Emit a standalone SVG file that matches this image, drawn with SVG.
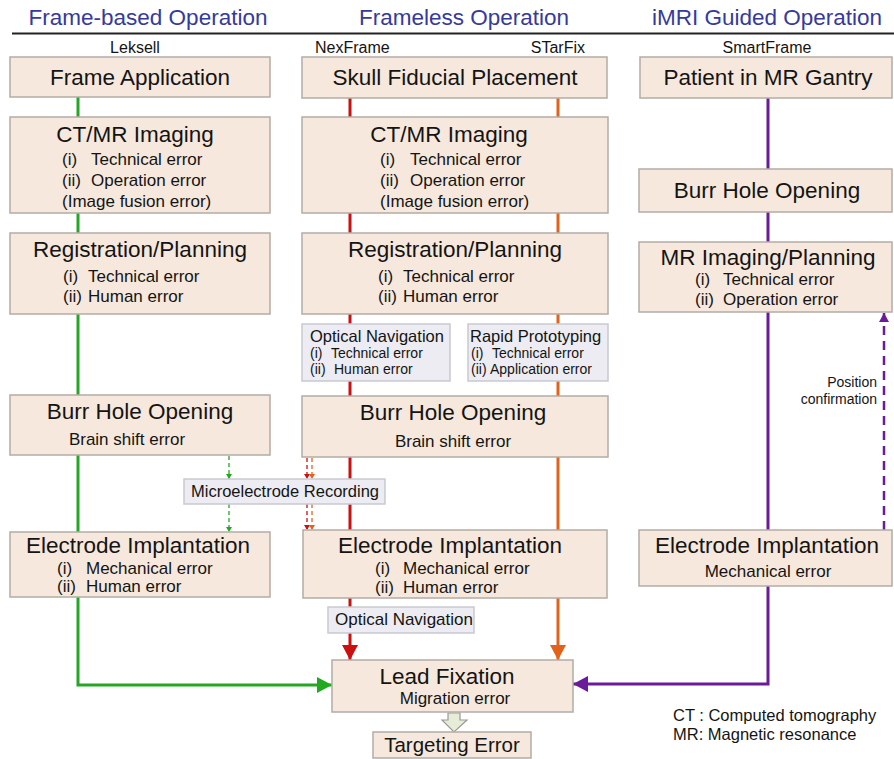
<svg xmlns="http://www.w3.org/2000/svg" width="894" height="759" viewBox="0 0 894 759">
<style>
text{font-family:"Liberation Sans",Arial,sans-serif;fill:#141414}
.hd{font-size:22.5px;fill:#363a9c;text-anchor:middle}
.col{font-size:16px;text-anchor:middle}
.t{font-size:22.5px;text-anchor:middle}
.s{font-size:17px}
.sc{font-size:17px;text-anchor:middle}
.box{fill:#f6e8dc;stroke:#b3aca6;stroke-width:1.5}
.sb{fill:#ececf2;stroke:#c9c9d2;stroke-width:1.5}
.st{font-size:16.5px}
.ss{font-size:14px}
.ln{fill:none;stroke-width:3}
.dl{fill:none;stroke-width:1.3;stroke-dasharray:4 3}
</style>
<defs>
<marker id="ag" markerUnits="userSpaceOnUse" markerWidth="16" markerHeight="16" refX="15" refY="8" orient="auto"><path d="M0,0 L15,8 L0,16 z" fill="#22a822"/></marker>
<marker id="ar" markerUnits="userSpaceOnUse" markerWidth="16" markerHeight="16" refX="15" refY="8" orient="auto"><path d="M0,0 L15,8 L0,16 z" fill="#cc1010"/></marker>
<marker id="ao" markerUnits="userSpaceOnUse" markerWidth="16" markerHeight="16" refX="15" refY="8" orient="auto"><path d="M0,0 L15,8 L0,16 z" fill="#e2621a"/></marker>
<marker id="ap" markerUnits="userSpaceOnUse" markerWidth="16" markerHeight="16" refX="15" refY="8" orient="auto"><path d="M0,0 L15,8 L0,16 z" fill="#6a1b9a"/></marker>
<marker id="apd" markerUnits="userSpaceOnUse" markerWidth="10" markerHeight="10" refX="9" refY="5" orient="auto"><path d="M0,0 L9,5 L0,10 z" fill="#6a1b9a"/></marker>
<marker id="sg" markerUnits="userSpaceOnUse" markerWidth="6" markerHeight="6" refX="5" refY="3" orient="auto"><path d="M0,0 L5,3 L0,6 z" fill="#22a822"/></marker>
<marker id="sr" markerUnits="userSpaceOnUse" markerWidth="6" markerHeight="6" refX="5" refY="3" orient="auto"><path d="M0,0 L5,3 L0,6 z" fill="#cc1010"/></marker>
<marker id="so" markerUnits="userSpaceOnUse" markerWidth="6" markerHeight="6" refX="5" refY="3" orient="auto"><path d="M0,0 L5,3 L0,6 z" fill="#e2621a"/></marker>
</defs>
<rect width="894" height="759" fill="#ffffff"/>
<g id="header">
<text class="hd" x="148" y="25">Frame-based Operation</text>
<text class="hd" x="464" y="25">Frameless Operation</text>
<text class="hd" x="767" y="25">iMRI Guided Operation</text>
<line x1="12" y1="33.5" x2="894" y2="33.5" stroke="#222" stroke-width="2"/>
<text class="col" x="135" y="53">Leksell</text>
<text class="col" x="315" y="53" style="text-anchor:start">NexFrame</text>
<text class="col" x="585" y="53" style="text-anchor:end">STarFix</text>
<text class="col" x="767" y="53">SmartFrame</text>
</g>
<g id="connectors">
<path class="ln" stroke="#22a822" d="M78 97 V685 H332" marker-end="url(#ag)"/>
<path class="ln" stroke="#cc1010" d="M350 98 V660" marker-end="url(#ar)"/>
<path class="ln" stroke="#e2621a" d="M558 98 V660" marker-end="url(#ao)"/>
<path class="ln" stroke="#6a1b9a" d="M768 98 V684 H573" marker-end="url(#ap)"/>
<path fill="none" stroke="#6a1b9a" stroke-width="2.5" stroke-dasharray="9 6" d="M884 530 V313" marker-end="url(#apd)"/>
<path class="dl" stroke="#22a822" d="M229 456 V479" marker-end="url(#sg)"/>
<path class="dl" stroke="#22a822" d="M229 504 V532" marker-end="url(#sg)"/>
<path class="dl" stroke="#cc1010" d="M307 458 V479" marker-end="url(#sr)"/>
<path class="dl" stroke="#cc1010" d="M307 504 V530" marker-end="url(#sr)"/>
<path class="dl" stroke="#e2621a" d="M312 458 V479" marker-end="url(#so)"/>
<path class="dl" stroke="#e2621a" d="M312 504 V530" marker-end="url(#so)"/>
<path d="M448 713 H460 V720 H467 L454 732 L442 720 H448 Z" fill="#e6edd6" stroke="#9a9a9a" stroke-width="1.2"/>
</g>
<g id="frame-application">
<rect class="box" x="10" y="57" width="260" height="40"/>
<text class="t" x="140" y="85">Frame Application</text>
</g>
<g id="skull-fiducial">
<rect class="box" x="302" y="57" width="305" height="41"/>
<text class="t" x="455" y="85">Skull Fiducial Placement</text>
</g>
<g id="patient-gantry">
<rect class="box" x="640" y="57" width="252" height="41"/>
<text class="t" x="768" y="85">Patient in MR Gantry</text>
</g>
<g id="ct-left">
<rect class="box" x="10" y="117" width="260" height="96"/>
<text class="t" x="135" y="142">CT/MR Imaging</text>
<text class="s" y="165"><tspan x="62">(i)</tspan><tspan x="91">Technical error</tspan></text>
<text class="s" y="186"><tspan x="62">(ii)</tspan><tspan x="91">Operation error</tspan></text>
<text class="s" x="62" y="207">(Image fusion error)</text>
</g>
<g id="ct-mid">
<rect class="box" x="302" y="117" width="306" height="96"/>
<text class="t" x="449" y="142">CT/MR Imaging</text>
<text class="s" y="165"><tspan x="380">(i)</tspan><tspan x="410">Technical error</tspan></text>
<text class="s" y="186"><tspan x="380">(ii)</tspan><tspan x="410">Operation error</tspan></text>
<text class="s" x="380" y="207">(Image fusion error)</text>
</g>
<g id="burr-right">
<rect class="box" x="639" y="169" width="253" height="43"/>
<text class="t" x="767" y="198">Burr Hole Opening</text>
</g>
<g id="reg-left">
<rect class="box" x="10" y="233" width="260" height="81"/>
<text class="t" x="140" y="257">Registration/Planning</text>
<text class="s" y="282"><tspan x="63">(i)</tspan><tspan x="88">Technical error</tspan></text>
<text class="s" y="302"><tspan x="63">(ii)</tspan><tspan x="88">Human error</tspan></text>
</g>
<g id="reg-mid">
<rect class="box" x="302" y="233" width="306" height="81"/>
<text class="t" x="455" y="257">Registration/Planning</text>
<text class="s" y="282"><tspan x="378">(i)</tspan><tspan x="403">Technical error</tspan></text>
<text class="s" y="302"><tspan x="378">(ii)</tspan><tspan x="403">Human error</tspan></text>
</g>
<g id="mr-planning">
<rect class="box" x="639" y="242" width="253" height="70"/>
<text class="t" x="768" y="265">MR Imaging/Planning</text>
<text class="s" y="285"><tspan x="695">(i)</tspan><tspan x="723">Technical error</tspan></text>
<text class="s" y="305"><tspan x="695">(ii)</tspan><tspan x="723">Operation error</tspan></text>
</g>
<g id="optical-nav-1">
<rect class="sb" x="302" y="324" width="148" height="57"/>
<text class="st" x="310" y="342">Optical Navigation</text>
<text class="ss" y="358"><tspan x="310">(i)</tspan><tspan x="331">Technical error</tspan></text>
<text class="ss" y="374"><tspan x="310">(ii)</tspan><tspan x="334">Human error</tspan></text>
</g>
<g id="rapid-proto">
<rect class="sb" x="468" y="324" width="140" height="57"/>
<text class="st" x="470" y="342">Rapid Prototyping</text>
<text class="ss" y="358"><tspan x="471">(i)</tspan><tspan x="492">Technical error</tspan></text>
<text class="ss" y="374"><tspan x="471">(ii)</tspan><tspan x="490">Application error</tspan></text>
</g>
<g id="position-confirmation">
<text class="ss" x="877" y="387" style="text-anchor:end">Position</text>
<text class="ss" x="877" y="404" style="text-anchor:end">confirmation</text>
</g>
<g id="burr-left">
<rect class="box" x="10" y="395" width="260" height="60"/>
<text class="t" x="140" y="419">Burr Hole Opening</text>
<text class="sc" x="127" y="445">Brain shift error</text>
</g>
<g id="burr-mid">
<rect class="box" x="302" y="396" width="306" height="61"/>
<text class="t" x="453" y="420">Burr Hole Opening</text>
<text class="sc" x="453" y="447">Brain shift error</text>
</g>
<g id="mer">
<rect class="sb" x="184" y="479" width="201" height="25"/>
<text x="191" y="497" style="font-size:16.5px">Microelectrode Recording</text>
</g>
<g id="elec-left">
<rect class="box" x="10" y="532" width="260" height="65"/>
<text class="t" x="138" y="553">Electrode Implantation</text>
<text class="s" y="574"><tspan x="57">(i)</tspan><tspan x="86">Mechanical error</tspan></text>
<text class="s" y="592"><tspan x="57">(ii)</tspan><tspan x="86">Human error</tspan></text>
</g>
<g id="elec-mid">
<rect class="box" x="303" y="530" width="304" height="68"/>
<text class="t" x="450" y="553">Electrode Implantation</text>
<text class="s" y="574"><tspan x="375">(i)</tspan><tspan x="403">Mechanical error</tspan></text>
<text class="s" y="593"><tspan x="375">(ii)</tspan><tspan x="403">Human error</tspan></text>
</g>
<g id="elec-right">
<rect class="box" x="639" y="530" width="253" height="56"/>
<text class="t" x="767" y="553">Electrode Implantation</text>
<text class="sc" x="768" y="577">Mechanical error</text>
</g>
<g id="optical-nav-2">
<rect class="sb" x="328" y="607" width="146" height="26"/>
<text class="s" x="335" y="625">Optical Navigation</text>
</g>
<g id="lead-fixation">
<rect class="box" x="332" y="660" width="241" height="52"/>
<text class="t" x="447" y="684">Lead Fixation</text>
<text class="sc" x="455" y="704">Migration error</text>
</g>
<g id="targeting-error">
<rect class="box" x="373" y="732" width="158" height="26"/>
<text x="452" y="752" style="font-size:20.5px;text-anchor:middle">Targeting Error</text>
</g>
<g id="legend">
<text x="673" y="721" style="font-size:16.5px">CT : Computed tomography</text>
<text x="673" y="740" style="font-size:16.5px">MR: Magnetic resonance</text>
</g>
</svg>
